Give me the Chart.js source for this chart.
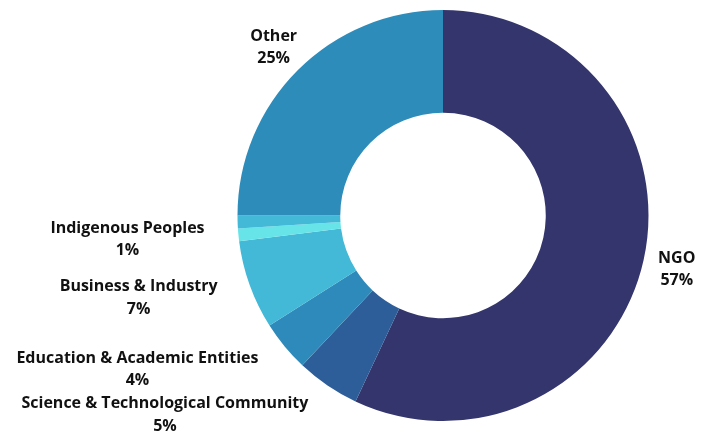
<!DOCTYPE html>
<html>
<head>
<meta charset="utf-8">
<script src="https://cdn.jsdelivr.net/npm/chart.js@4"></script>
<style>
  html, body { margin: 0; padding: 0; background: #ffffff; }
  #wrap { width: 712px; height: 432px; }
</style>
</head>
<body>
<div id="wrap"><canvas id="chart" width="712" height="432"></canvas></div>
<script>
// Share of registrations by stakeholder group (percent)
const categories = [
  'NGO',
  'Science & Technological Community',
  'Education & Academic Entities',
  'Business & Industry',
  'Indigenous Peoples',
  'Local Authorities',
  'Other'
];
const shares = [57, 5, 4, 7, 1, 1, 25];
// Groups whose callout is left off the chart
const unlabeled = ['Local Authorities'];
const sliceColors = ['#33356c', '#2e5e99', '#2e8aba', '#43b8d7', '#67e4e8', '#43b8d7', '#2e8cba'];

// Callouts: name + percent, placed just outside each slice along its mid-angle
const calloutPlugin = {
  id: 'callouts',
  afterDatasetsDraw(chart) {
    const ctx = chart.ctx;
    const meta = chart.getDatasetMeta(0);
    const total = shares.reduce((a, b) => a + b, 0);
    ctx.save();
    ctx.font = 'bold 16px "Open Sans"';
    ctx.fillStyle = '#111111';
    ctx.textBaseline = 'middle';
    meta.data.forEach((arc, i) => {
      if (unlabeled.includes(categories[i])) return;
      const p = arc.getProps(['x', 'y', 'startAngle', 'endAngle', 'outerRadius'], true);
      const mid = (p.startAngle + p.endAngle) / 2;
      const r = p.outerRadius + 34;
      const ax = p.x + Math.cos(mid) * r;
      const ay = p.y + Math.sin(mid) * r + 1.5;
      const lines = [categories[i], Math.round(shares[i] / total * 100) + '%'];
      const widest = Math.max(...lines.map(t => ctx.measureText(t).width));
      // lower-left labels hang off the ring by their right edge, others are centred
      const lowerLeft = Math.cos(mid) < 0 && Math.sin(mid) > 0;
      const cx = lowerLeft ? ax - widest / 2 : ax;
      const lh = 22.5;
      ctx.textAlign = 'center';
      lines.forEach((t, k) => {
        ctx.fillText(t, cx, ay + (k - (lines.length - 1) / 2) * lh);
      });
    });
    ctx.restore();
  }
};

new Chart(document.getElementById('chart'), {
  type: 'doughnut',
  data: {
    labels: categories,
    datasets: [{
      data: shares,
      backgroundColor: sliceColors,
      borderWidth: 0,
      hoverOffset: 0
    }]
  },
  options: {
    responsive: false,
    animation: false,
    cutout: '50%',
    layout: { padding: { left: 174, right: 0, top: 10, bottom: 11 } },
    plugins: {
      legend: { display: false },
      tooltip: { enabled: false }
    }
  },
  plugins: [calloutPlugin]
});
</script>
</body>
</html>
